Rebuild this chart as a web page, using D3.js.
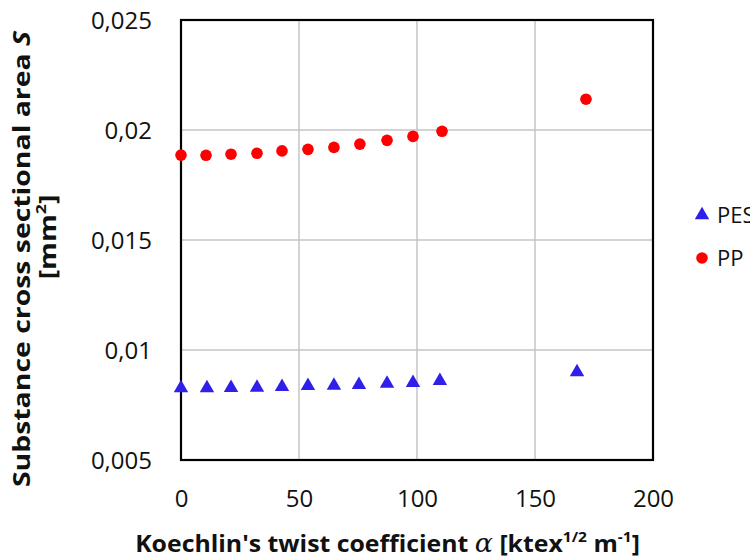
<!DOCTYPE html>
<html>
<head>
<meta charset="utf-8">
<script src="https://cdn.jsdelivr.net/npm/d3@7"></script>
<style>
  html, body { margin: 0; padding: 0; background: #fff; }
  svg { display: block; }
</style>
</head>
<body>
<svg id="chart" width="750" height="560"></svg>
<script>
const pesX = [0, 11, 21.2, 32.2, 42.8, 53.8, 64.8, 75.4, 87.3, 98.3, 109.7, 167.8];
const pesY = [0.00827, 0.00827, 0.00828, 0.00829, 0.00833, 0.00837, 0.00838, 0.00842, 0.00847, 0.00851, 0.0086, 0.0090];
const ppX = [0, 10.6, 21.2, 32.2, 42.8, 53.8, 64.8, 75.8, 87.3, 98.3, 110.6, 171.6];
const ppY = [0.01886, 0.01885, 0.0189, 0.01894, 0.01905, 0.01912, 0.01921, 0.01936, 0.01953, 0.01971, 0.01994, 0.0214];
const xTicks = [0, 50, 100, 150, 200];
const yTicks = [0.005, 0.01, 0.015, 0.02, 0.025];
const yTickLabels = ["0,005", "0,01", "0,015", "0,02", "0,025"];
const seriesNames = ["PES", "PP"];

const svg = d3.select("#chart");
const m = { left: 181, right: 653, top: 20, bottom: 460 };
const x = d3.scaleLinear().domain([0, 200]).range([m.left, m.right]);
const y = d3.scaleLinear().domain([0.005, 0.025]).range([m.bottom, m.top]);
const font = "'Open Sans', 'Noto Sans', sans-serif";

// grid
svg.append("g").selectAll("line.v").data(xTicks.slice(1, -1)).join("line")
  .attr("x1", d => x(d)).attr("x2", d => x(d))
  .attr("y1", m.top).attr("y2", m.bottom)
  .attr("stroke", "#c4c4c4").attr("stroke-width", 1.5);
svg.append("g").selectAll("line.h").data(yTicks.slice(1, -1)).join("line")
  .attr("y1", d => y(d)).attr("y2", d => y(d))
  .attr("x1", m.left).attr("x2", m.right)
  .attr("stroke", "#c4c4c4").attr("stroke-width", 1.5);

// frame
svg.append("rect").attr("x", m.left).attr("y", m.top)
  .attr("width", m.right - m.left).attr("height", m.bottom - m.top)
  .attr("fill", "none").attr("stroke", "#000").attr("stroke-width", 2.2);

// axes labels via d3 axes
const xAxis = d3.axisBottom(x).tickValues(xTicks).tickSize(0).tickPadding(0);
const gx = svg.append("g").attr("transform", `translate(0,${m.bottom})`).call(xAxis);
gx.select(".domain").remove();
gx.selectAll("text").attr("font-family", font).attr("font-size", 24).attr("fill", "#111")
  .attr("dy", null).attr("y", 47);

const yAxis = d3.axisLeft(y).tickValues(yTicks).tickFormat((d, i) => yTickLabels[i]).tickSize(0).tickPadding(0);
const gy = svg.append("g").attr("transform", `translate(${m.left},0)`).call(yAxis);
gy.select(".domain").remove();
gy.selectAll("text").attr("font-family", font).attr("font-size", 24).attr("fill", "#111")
  .attr("x", -29).attr("dy", "0.35em");

// marks
const tri = d3.symbol().type(d3.symbolTriangle).size(90);
svg.append("g").selectAll("path").data(pesX.map((d, i) => [d, pesY[i]])).join("path")
  .attr("d", tri).attr("transform", d => `translate(${x(d[0])},${y(d[1])})`)
  .attr("fill", "#2f1fe8");
svg.append("g").selectAll("circle").data(ppX.map((d, i) => [d, ppY[i]])).join("circle")
  .attr("cx", d => x(d[0])).attr("cy", d => y(d[1])).attr("r", 5.8)
  .attr("fill", "#ff0000");

// legend
const lg = svg.append("g");
lg.append("path").attr("d", tri).attr("transform", "translate(702,215)").attr("fill", "#2f1fe8");
lg.append("circle").attr("cx", 702).attr("cy", 258).attr("r", 5.8).attr("fill", "#ff0000");
lg.append("text").attr("x", 717).attr("y", 215).attr("dy", "0.36em").text(seriesNames[0])
  .attr("font-family", font).attr("font-size", 22).attr("fill", "#111");
lg.append("text").attr("x", 717).attr("y", 258).attr("dy", "0.36em").text(seriesNames[1])
  .attr("font-family", font).attr("font-size", 22).attr("fill", "#111");

// helper: stretch a text group horizontally (in its own frame) to a target width
function fitWidth(textSel, target) {
  const w = textSel.node().getBBox().width;
  return target / w;
}

// x title
const xtG = svg.append("g");
const xt = xtG.append("text").attr("x", 0).attr("y", 0).attr("text-anchor", "middle")
  .attr("font-family", font).attr("font-weight", "bold").attr("font-size", 24).attr("fill", "#111");
xt.append("tspan").text("Koechlin's twist coefficient ");
xt.append("tspan").text("α").attr("font-family", "'DejaVu Serif', serif").attr("font-weight", "normal").attr("font-style", "italic").attr("font-size", 26);
xt.append("tspan").text("  [ktex");
xt.append("tspan").text("1/2").attr("font-size", 15).attr("dy", -10);
xt.append("tspan").text(" m").attr("dy", 10);
xt.append("tspan").text("-1").attr("font-size", 15).attr("dy", -10);
xt.append("tspan").text("]").attr("dy", 10);
const sx = fitWidth(xt, 505);
xtG.attr("transform", `translate(387.5,552) scale(${sx},1)`);

// y title
const ytG = svg.append("g");
const yt = ytG.append("text").attr("text-anchor", "middle")
  .attr("font-family", font).attr("font-weight", "bold").attr("font-size", 24).attr("fill", "#111");
yt.append("tspan").text("Substance cross sectional area  ");
yt.append("tspan").text("S").attr("font-style", "italic");
const sy = fitWidth(yt, 458);
ytG.attr("transform", `translate(30,259) rotate(-90) scale(${sy},1)`);

const yt2G = svg.append("g");
const yt2 = yt2G.append("text").attr("text-anchor", "middle")
  .attr("font-family", font).attr("font-weight", "bold").attr("font-size", 24).attr("fill", "#111");
yt2.append("tspan").text("[mm");
yt2.append("tspan").text("2").attr("font-size", 15).attr("dy", -10);
yt2.append("tspan").text("]").attr("dy", 10);
yt2G.attr("transform", `translate(56,237) rotate(-90) scale(${sy},1)`);
</script>
</body>
</html>
